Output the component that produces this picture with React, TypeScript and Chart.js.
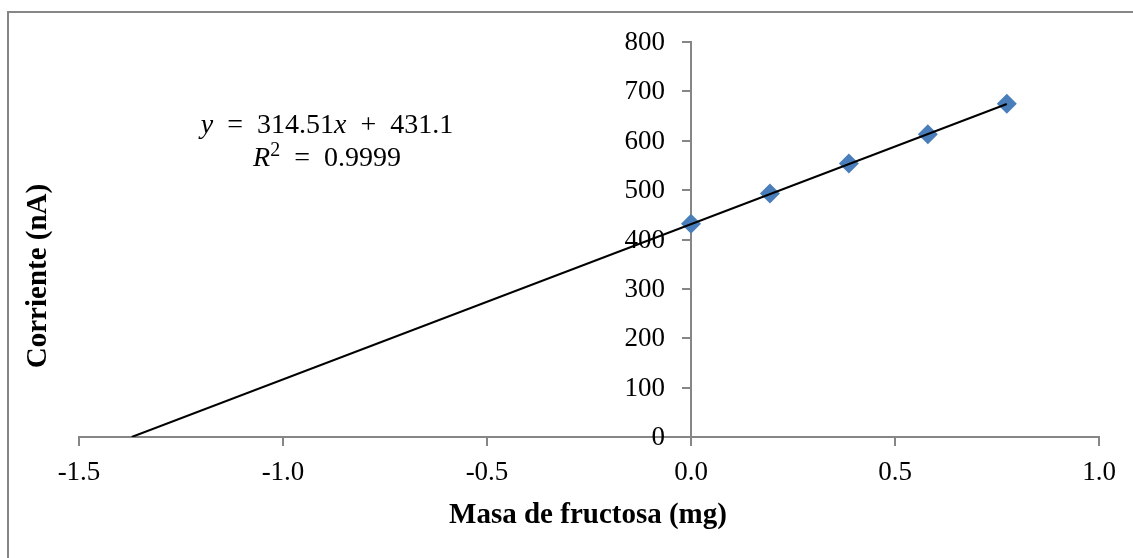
import { useEffect, useRef } from "react";
import { Chart, registerables } from "chart.js";

Chart.register(...registerables);

// ---- Data ----
const masaFructosa = [0, 0.1935, 0.387, 0.5805, 0.774];
const corriente = [432, 493, 554, 613, 675];
const pendiente = 314.51;
const intercepto = 431.1;
const r2Text = "0.9999";
const xTitle = "Masa de fructosa (mg)";
const yTitle = "Corriente (nA)";
const xMin = -1.5;
const xMax = 1.0;
const xStep = 0.5;
const yMin = 0;
const yMax = 800;
const yStep = 100;

const SERIF = "'Liberation Serif', 'Times New Roman', serif";
const AXIS_GRAY = "#868686";
const MARKER_BLUE = "#4A7EBB";
const TICK_SIZE = 27;

const decorPlugin = {
  id: "decor",
  beforeDraw(chart: any) {
    const ctx = chart.ctx;
    ctx.save();
    ctx.fillStyle = "#ffffff";
    ctx.fillRect(0, 0, chart.width, chart.height);
    ctx.restore();
  },
  afterDraw(chart: any) {
    const ctx = chart.ctx;
    ctx.save();
    // outer frame (only top and left visible)
    ctx.strokeStyle = AXIS_GRAY;
    ctx.lineWidth = 2;
    ctx.beginPath();
    ctx.moveTo(8, chart.height);
    ctx.lineTo(8, 12);
    ctx.lineTo(chart.width, 12);
    ctx.stroke();

    ctx.fillStyle = "#000";

    // y tick labels, right-aligned left of the y axis (axis sits at x = 0)
    const xs = chart.scales.x;
    const ys = chart.scales.y;
    const axisX = xs.getPixelForValue(0);
    ctx.font = `${TICK_SIZE}px ${SERIF}`;
    ctx.textAlign = "right";
    ctx.textBaseline = "middle";
    for (const t of ys.ticks) {
      ctx.fillText(String(t.value), axisX - 8 - 18, ys.getPixelForValue(t.value) + 1);
    }

    // x title
    ctx.font = `bold 29px ${SERIF}`;
    ctx.textAlign = "center";
    ctx.textBaseline = "alphabetic";
    ctx.fillText(xTitle, 588, 523);
    // y title
    ctx.save();
    ctx.translate(46, 276);
    ctx.rotate(-Math.PI / 2);
    ctx.textBaseline = "alphabetic";
    ctx.fillText(yTitle, 0, 0);
    ctx.restore();

    // equation
    const size = 28;
    const it = `italic ${size}px ${SERIF}`;
    const rm = `${size}px ${SERIF}`;
    const sup = `${Math.round(size * 0.72)}px ${SERIF}`;
    const drawLine = (parts: [string, string, number][], cx: number, baseline: number) => {
      let w = 0;
      for (const [t, f] of parts) {
        ctx.font = f;
        w += ctx.measureText(t).width;
      }
      let x = cx - w / 2;
      ctx.textAlign = "left";
      for (const [t, f, dy] of parts) {
        ctx.font = f;
        ctx.fillText(t, x, baseline - dy);
        x += ctx.measureText(t).width;
      }
    };
    drawLine(
      [
        ["y", it, 0],
        ["  =  ", rm, 0],
        [pendiente.toFixed(2), rm, 0],
        ["x", it, 0],
        ["  +  ", rm, 0],
        [intercepto.toFixed(1), rm, 0],
      ],
      327,
      133
    );
    drawLine(
      [
        ["R", it, 0],
        ["2", sup, 10],
        ["  =  ", rm, 0],
        [r2Text, rm, 0],
      ],
      327,
      166
    );
    ctx.restore();
  },
};

export default function App() {
  const ref = useRef<HTMLCanvasElement | null>(null);

  useEffect(() => {
    if (!ref.current) return;
    const xStart = -intercepto / pendiente;
    const xEnd = Math.max(...masaFructosa);
    const trend = [xStart, xEnd].map((x) => ({ x, y: pendiente * x + intercepto }));
    const points = masaFructosa.map((x, i) => ({ x, y: corriente[i] }));

    const tickFont = { family: SERIF, size: TICK_SIZE };
    const chart = new Chart(ref.current, {
      type: "scatter",
      data: {
        datasets: [
          {
            type: "line",
            label: "Tendencia",
            data: trend,
            borderColor: "#000",
            borderWidth: 2,
            pointRadius: 0,
            showLine: true,
            fill: false,
            order: 0,
          } as any,
          {
            label: "Datos",
            data: points,
            pointStyle: "rectRot",
            pointRadius: 10,
            backgroundColor: MARKER_BLUE,
            borderColor: MARKER_BLUE,
            borderWidth: 0,
            order: 1,
          },
        ],
      },
      options: {
        responsive: false,
        animation: false,
        events: [],
        layout: { padding: { left: 79, right: 34, top: 42, bottom: 121 } },
        plugins: {
          legend: { display: false },
          tooltip: { enabled: false },
        },
        scales: {
          x: {
            type: "linear",
            min: xMin,
            max: xMax,
            position: { y: 0 } as any,
            ticks: {
              stepSize: xStep,
              callback: (v: any) => Number(v).toFixed(1),
              font: tickFont,
              color: "#000",
              padding: 12,
            },
            grid: {
              drawOnChartArea: false,
              drawTicks: true,
              tickLength: 8,
              color: AXIS_GRAY,
              lineWidth: 2,
            },
            border: { color: AXIS_GRAY, width: 2 },
          },
          y: {
            type: "linear",
            min: yMin,
            max: yMax,
            position: { x: 0 } as any,
            ticks: {
              stepSize: yStep,
              display: false,
            },
            grid: {
              drawOnChartArea: false,
              drawTicks: true,
              tickLength: 8,
              color: AXIS_GRAY,
              lineWidth: 2,
            },
            border: { color: AXIS_GRAY, width: 2 },
          },
        },
      },
      plugins: [decorPlugin],
    });
    return () => chart.destroy();
  }, []);

  return (
    <div style={{ position: "absolute", left: 0, top: 0, width: 1133, height: 558 }}>
      <canvas ref={ref} width={1133} height={558} style={{ display: "block" }} />
    </div>
  );
}
